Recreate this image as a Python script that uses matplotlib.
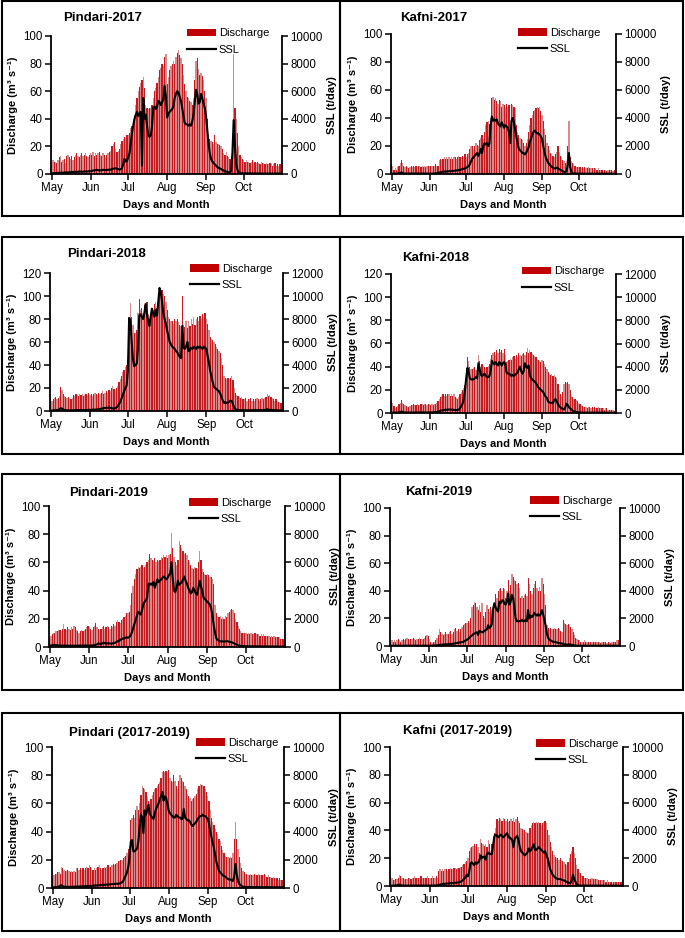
import numpy as np
import matplotlib
matplotlib.use("Agg")
import matplotlib.pyplot as plt
from matplotlib.patches import Patch, Rectangle
from matplotlib.lines import Line2D

plt.rcParams['font.family'] = ['Liberation Sans', 'DejaVu Sans']

# ---------------- data (daily, 1 May .. 31 Oct) ----------------
month_labels = ["May", "Jun", "Jul", "Aug", "Sep", "Oct"]
month_start_days = [0, 31, 61, 92, 123, 153]

pindari_2017_q = [
    9,10,9,9,8,10,12,13,9,10, 11,8,13,14,12,11,13,10,12,14, 15,13,12,14,15,13,14,15,13,12, 14,
    15,14,16,13,15,14,15,16,14,13, 15,14,12,14,15,16,17,20,22,23, 18,16,17,18,22,24,25,27,26,28,
    28,30,33,35,38,42,50,55,60,63, 66,68,70,62,50,48,47,48,48,50, 55,60,62,66,70,75,77,80,78,85, 87,
    65,70,75,78,80,82,80,85,88,90, 86,84,80,72,65,60,56,55,53,52, 50,55,68,82,84,76,72,73,71,68, 60,
    55,40,28,25,24,23,22,28,23,22, 22,21,20,18,15,14,16,13,12,11, 12,15,87,48,40,30,20,14,12,11,
    10,9,10,9,9,8,9,10,8,9, 8,9,8,7,9,8,8,7,8,7, 7,8,7,6,7,8,6,7,6,7, 6,
]
pindari_2017_ssl = [
    50,60,50,60,70,80,80,90,100,90, 100,110,120,100,120,130,150,140,150,160, 150,160,170,180,160,170,180,190,180,190, 200,
    200,220,250,260,280,300,280,270,260,280, 300,290,280,300,310,300,320,350,380,400, 420,380,350,330,350,400,700,1100,900,950,
    1200,1500,2200,3000,3500,4000,4300,4500,4200,4400, 4500,600,5500,4000,4300,3500,2800,2700,2800,3500, 4800,4900,4700,4900,5300,5200,5000,5200,5400,6400, 5600,
    4100,4400,4500,4600,4700,4900,5500,5800,6000,5900, 5600,5300,4800,4200,3700,3600,3600,3500,3600,3500, 3800,4300,5200,6100,5800,5100,5200,5800,5500,5100, 4800,
    4200,3200,2200,1500,1100,900,800,700,600,500, 450,400,350,300,250,200,180,150,120,100, 200,1500,3900,2000,800,300,100,80,60,50,
    50,50,45,45,40,40,40,40,40,35, 35,35,35,35,30,30,30,30,30,30, 30,30,30,30,30,30,30,30,30,30, 30,
]

kafni_2017_q = [
    7,6,3,4,3,5,6,8,10,8, 6,5,6,5,4,5,6,5,6,5, 6,5,6,6,5,6,5,6,5,6, 6,
    6,6,6,6,6,7,6,6,10,11, 10,11,12,11,12,11,12,11,12,11, 12,12,11,12,13,12,12,13,12,14,
    12,14,15,18,20,20,18,20,22,21, 20,24,26,28,25,30,35,37,38,36, 40,54,55,53,54,52,50,53,52,48, 50,
    49,47,50,48,49,32,50,49,48,47, 35,30,28,26,25,24,22,20,22,25, 30,35,40,42,45,46,47,48,47,48, 45,
    42,38,32,28,22,20,17,15,14,13, 12,14,16,20,16,13,12,10,9,8, 9,20,38,12,9,8,7,6,5,5,
    5,5,4,5,4,5,4,4,5,4, 4,4,3,4,4,3,4,3,3,3, 2,3,3,2,3,3,3,3,2,3, 3,
]
kafni_2017_ssl = [
    20,20,30,30,30,40,50,60,120,60, 40,30,30,30,30,30,30,30,30,30, 30,30,30,30,30,30,30,30,30,30, 30,
    30,30,30,30,40,40,50,60,100,120, 150,160,170,180,180,190,200,200,210,220, 230,240,250,260,280,300,320,350,380,400,
    450,500,550,700,900,1100,1200,1300,1400,1500, 1300,1500,1800,1500,2000,2200,2100,2200,2000,2200, 3500,4100,3800,3900,3800,3900,3600,3500,3400,3700, 3500,
    3300,3500,3400,3300,3000,2200,3800,4000,3700,3200, 2700,2200,1800,1700,1600,1500,1500,1400,1500,1700, 1900,2300,2500,2800,3000,3100,3000,2900,2900,2800, 2700,
    2500,2000,1600,1200,1000,800,700,600,500,450, 400,400,450,400,350,300,250,200,150,150, 200,600,1500,500,150,60,40,30,30,30,
    25,25,25,20,20,20,20,20,20,20, 20,20,20,20,20,20,20,20,20,20, 20,20,20,20,20,20,20,20,20,20, 20,
]

pindari_2018_q = [
    10,9,10,11,12,10,11,13,21,18, 15,13,12,11,12,11,10,11,14,13, 15,14,13,15,14,15,13,14,15,14, 16,
    14,15,13,15,16,15,14,16,15,16, 17,15,16,17,16,18,17,20,22,19, 18,20,22,25,28,30,34,36,38,40,
    45,80,94,82,75,68,68,70,85,97, 88,90,85,92,88,95,84,80,85,90, 88,93,95,90,100,108,107,105,102,100, 95,
    88,82,80,78,78,76,80,78,80,77, 75,74,100,75,73,78,72,78,74,80, 76,82,75,80,82,78,83,80,84,82, 85,
    80,76,70,64,63,62,60,58,56,54, 52,50,46,40,30,29,28,29,28,29, 30,27,20,16,14,13,12,11,12,10,
    10,11,9,10,10,11,9,10,9,10, 11,10,9,10,11,10,11,12,15,13, 14,12,11,10,9,10,9,8,8,7, 7,
]
pindari_2018_ssl = [
    50,40,50,60,60,80,100,150,250,200, 120,80,60,60,50,50,50,60,60,70, 70,80,80,80,80,70,80,80,90,90, 100,
    100,100,110,120,120,130,140,150,180,200, 220,250,260,270,280,300,280,250,220,200, 250,300,400,600,800,1100,1400,1700,2000,2200,
    3500,8100,7800,6000,4500,3900,4000,4100,5500,8300, 8400,8200,8000,8500,9300,8500,7800,7400,8200,8900, 8500,8200,8800,8300,9500,10700,10300,9500,8500,8000, 7600,
    7000,6500,6000,5800,5600,5500,5400,5200,5100,4900, 4700,4600,7400,5500,5400,5600,6000,5200,5300,5500, 5400,5600,5500,5400,5600,5500,5600,5500,5400,5600, 5500,
    5400,4800,4200,3500,3000,2500,2100,2000,1900,1800, 1700,1500,1200,900,700,750,700,750,800,900, 850,600,300,150,100,100,80,80,70,70,
    70,70,60,60,60,60,70,70,70,70, 70,70,70,80,80,80,90,100,150,120, 100,80,80,70,70,60,60,60,50,50, 50,
]

kafni_2018_q = [
    10,9,6,4,5,6,8,9,11,9, 8,7,6,5,5,6,7,7,8,7, 7,8,7,7,8,8,7,8,8,7, 8,
    8,7,8,7,8,8,9,10,12,14, 15,16,15,16,15,16,16,15,16,15, 16,14,13,12,14,16,18,20,22,24,
    30,48,45,40,38,38,39,40,37,38, 50,45,40,42,41,40,39,40,41,42, 47,50,52,53,50,54,52,55,53,54, 52,
    55,50,44,45,46,47,46,48,49,47, 50,48,52,50,49,51,52,50,53,56, 52,54,53,51,50,49,48,47,46,45, 44,
    46,45,42,40,38,35,34,33,34,32, 33,31,30,25,20,16,15,18,25,27, 26,27,25,20,15,14,12,12,11,10,
    9,8,7,6,5,5,5,4,5,5, 4,5,4,5,4,4,5,4,4,4, 4,3,4,4,3,3,3,3,3,2, 2,
]
kafni_2018_ssl = [
    30,30,30,40,40,50,60,80,120,80, 60,50,40,40,40,40,40,40,40,40, 50,50,50,50,50,50,50,50,50,50, 50,
    50,50,50,60,60,70,80,100,150,200, 230,250,260,280,280,290,300,300,290,280, 270,260,250,260,300,400,600,800,1200,2000,
    3000,3900,3500,3000,2900,2900,2900,3000,3100,3000, 4300,3800,3300,3200,3300,3400,3200,3100,3100,3200, 3600,4500,4300,4200,4400,4200,4100,4400,4300,4100, 4300,
    4400,4200,3500,3400,3400,3300,3200,3300,3200,3300, 3400,3500,3800,4000,3600,3400,3600,4300,4000,3900, 4100,3300,3000,2900,2800,2700,2600,2400,2200,2100, 2000,
    1900,1800,1600,1400,1300,1000,900,900,850,900, 1100,1200,1000,800,600,500,400,350,300,500, 800,700,500,400,300,200,150,100,80,60,
    50,40,40,30,30,30,30,30,30,30, 30,30,30,30,30,30,30,30,30,30, 30,30,20,20,20,20,20,20,20,20, 20,
]

pindari_2019_q = [
    6,8,9,10,10,11,11,12,12,11, 13,16,13,12,14,13,12,14,13,15, 14,12,11,10,11,12,11,12,13,14, 15,
    14,13,12,14,15,17,14,13,12,13, 14,15,13,14,15,14,13,15,14,16, 15,18,19,18,17,19,20,21,22,24,
    24,25,30,38,43,48,52,55,57,56, 57,58,56,57,58,60,62,66,63,62, 61,63,60,62,61,62,64,63,65,64, 65,
    63,65,66,81,70,64,60,58,62,75, 72,70,68,66,67,65,62,60,58,56, 55,57,56,55,60,68,62,55,53,52, 51,
    52,51,50,50,48,45,30,24,22,21, 22,20,21,20,22,21,24,25,26,27, 26,24,20,18,15,13,11,10,10,10,
    10,9,10,9,10,9,9,10,9,9, 9,8,9,8,9,8,8,8,8,7, 8,7,8,7,7,7,7,6,6,6, 5,
]
pindari_2019_ssl = [
    100,100,120,150,150,130,120,100,100,100, 100,100,100,90,90,90,90,90,90,90, 90,90,90,100,100,100,100,100,100,100, 100,
    100,100,110,120,130,150,200,250,230,220, 250,300,280,260,250,270,250,240,250,280, 300,350,400,450,500,550,600,600,650,700,
    650,700,800,1000,1300,1600,1900,2200,2500,2400, 2300,2600,3000,3200,3300,3500,4500,4400,4500,4400, 4600,4200,4500,4800,4600,4700,4800,4900,5000,4900, 4800,
    4900,5100,5200,6000,4800,4000,3900,4200,4700,4400, 4500,4600,4800,5000,4700,4500,4200,4000,3800,3900, 4200,4000,3800,3700,4200,4700,4300,4000,3500,3400, 3300,
    3200,3100,3000,2700,2200,1500,1000,600,500,450, 400,400,400,380,400,420,400,380,350,330, 300,250,200,150,120,100,80,70,60,60,
    50,50,50,50,50,50,50,45,45,45, 45,45,40,40,40,40,40,40,40,40, 35,35,35,35,35,35,30,30,30,30, 30,
]

kafni_2019_q = [
    3,4,3,4,3,4,5,4,3,4, 5,4,5,6,5,4,5,5,6,5, 4,5,5,6,5,5,5,6,7,8, 7,
    5,3,2,3,3,4,6,8,12,10, 9,8,9,10,9,9,10,11,9,10, 12,13,11,12,10,12,14,15,16,17,
    17,18,17,20,28,30,32,31,28,26, 30,25,31,22,20,25,30,27,25,28, 26,30,29,38,35,40,41,42,40,42, 41,
    35,40,48,40,44,52,50,48,47,45, 46,42,35,36,35,37,38,36,49,45, 40,38,42,45,47,42,40,43,40,49, 45,
    38,30,15,13,12,13,12,12,13,12, 12,13,12,11,10,19,17,16,15,16, 15,14,12,10,8,6,5,4,4,3,
    3,3,4,3,3,3,3,3,3,3, 3,3,3,3,3,2,3,3,3,3, 2,3,3,2,3,3,3,3,4,4, 4,
]
kafni_2019_ssl = [
    20,20,20,20,20,20,20,20,20,20, 20,20,20,20,20,20,20,20,20,20, 20,20,20,20,20,20,20,20,20,20, 20,
    20,20,20,30,30,40,50,60,80,90, 100,100,110,120,120,130,140,150,150,160, 180,200,220,230,250,270,280,300,350,400,
    450,500,600,700,750,850,900,950,1000,800, 1100,1050,1000,1000,1100,1150,1200,1500,1300,1400, 1600,2700,3100,2800,2600,2500,3200,3100,3300,3300, 3100,
    3000,3200,3800,3000,3200,3700,3500,2800,2000,1800, 1800,1800,1800,1900,1800,1800,1900,1800,2600,2000, 2200,2100,2200,2400,2300,2200,2300,2200,2300,2600, 2300,
    1900,1500,900,600,450,400,350,300,300,280, 250,230,210,200,180,150,120,110,100,100, 120,100,80,60,40,30,20,20,20,20,
    20,20,20,20,20,20,20,20,20,20, 20,20,20,20,20,20,20,20,20,20, 20,20,20,20,20,20,20,20,20,20, 20,
]

pindari_all_q = [
    8,9,10,10,11,11,10,15,14,13, 12,12,13,12,11,12,11,12,11,14, 14,13,14,13,14,13,14,15,14,16, 15,
    14,13,14,13,14,15,16,14,13,14, 15,14,15,16,15,15,16,17,16,17, 18,19,19,20,20,21,22,23,25,28,
    30,48,50,52,50,55,58,55,60,66, 72,71,70,68,65,62,60,63,66,68, 70,71,72,74,75,78,82,83,82,83, 82,
    84,78,76,75,80,76,72,70,76,80, 78,76,75,72,70,67,65,64,62,63, 64,65,67,70,72,74,73,73,72,70, 68,
    65,62,55,50,47,45,42,40,38,35, 33,30,27,25,23,22,22,21,22,21, 25,35,47,35,28,22,18,14,12,11,
    10,10,9,9,10,9,9,10,9,9, 10,9,9,9,9,10,9,8,9,8, 8,7,8,7,7,7,6,7,6,6, 6,
]
pindari_all_ssl = [
    50,50,60,70,80,100,150,200,120,100, 90,80,80,80,80,90,90,90,100,100, 100,110,110,120,120,120,130,130,140,150, 150,
    150,160,170,180,180,190,200,200,210,220, 220,230,240,250,250,260,270,280,290,300, 300,300,320,350,400,500,700,900,1100,1500,
    2200,3300,3400,2600,2600,2700,2800,3300,4300,5200, 5000,3900,5500,5200,5500,5900,5300,5100,5000,4900, 5300,5600,5800,6000,6300,6500,6800,6200,6500,6400, 6000,
    5500,5300,5200,5100,5000,5000,5200,5100,5000,5000, 4900,4900,5600,5000,4900,4800,4800,4700,4500,4400, 4500,4600,4700,4900,5000,5100,5100,5200,5100,5100, 5000,
    4900,4600,4000,3600,3200,2800,2300,1800,1500,1200, 1100,1000,900,850,800,700,650,600,600,550, 500,800,1700,1000,500,300,200,120,100,80,
    70,70,70,70,65,65,65,65,60,60, 60,60,60,60,55,55,55,55,55,55, 50,50,50,50,50,50,50,50,50,50, 50,
]

kafni_all_q = [
    7,6,4,4,5,5,6,8,7,6, 6,5,5,5,6,6,5,6,6,7, 6,6,6,6,7,6,6,6,6,7, 6,
    6,6,7,6,6,7,6,11,12,11, 12,11,12,12,11,12,13,12,12,13, 13,12,13,13,14,14,15,16,17,18,
    20,25,27,28,29,30,29,30,28,24, 34,31,30,29,30,28,33,30,25,30, 35,38,42,48,47,49,48,47,49,48, 47,
    48,46,47,48,47,49,46,48,50,47, 45,42,41,40,40,39,38,38,42,44, 45,46,45,46,45,46,45,44,45,46, 47,
    45,40,37,32,28,25,22,21,20,20, 19,20,19,18,17,16,15,17,20,23, 25,28,24,20,15,12,10,9,8,7,
    6,6,6,5,5,5,6,5,5,5, 5,4,4,4,4,4,4,3,4,3, 3,3,2,3,3,3,3,3,3,3, 3,
]
kafni_all_ssl = [
    20,20,30,30,40,50,70,100,60,40, 30,30,30,30,30,30,30,30,30,30, 30,30,30,30,30,30,30,30,30,30, 30,
    30,30,30,30,40,40,50,80,100,120, 140,150,160,170,180,190,200,200,210,220, 230,240,250,270,300,350,400,500,600,800,
    700,1000,1600,1700,1600,1500,1700,1600,1700,1800, 2200,2000,2100,2100,1900,2300,2400,2300,2300,2300, 3000,3600,3700,3600,3500,3600,3700,3600,3500,3600, 3700,
    3800,3500,3500,3400,3300,2800,3400,3500,3600,3300, 2800,2500,2400,2300,2200,2300,2400,2700,2500,2600, 2800,3000,2600,2600,2700,2800,2700,2600,2500,2400, 2500,
    2200,2000,1600,1200,1000,800,700,600,550,500, 500,500,450,420,400,350,300,250,220,200, 400,800,500,300,100,60,40,30,30,30,
    30,30,30,30,30,30,25,25,25,25, 25,25,25,25,25,25,20,20,20,20, 20,20,20,20,20,20,20,20,20,20, 20,
]

titles = ["Pindari-2017", "Kafni-2017", "Pindari-2018", "Kafni-2018",
          "Pindari-2019", "Kafni-2019", "Pindari (2017-2019)", "Kafni (2017-2019)"]
discharge_series = [pindari_2017_q, kafni_2017_q, pindari_2018_q, kafni_2018_q,
                    pindari_2019_q, kafni_2019_q, pindari_all_q, kafni_all_q]
ssl_series = [pindari_2017_ssl, kafni_2017_ssl, pindari_2018_ssl, kafni_2018_ssl,
              pindari_2019_ssl, kafni_2019_ssl, pindari_all_ssl, kafni_all_ssl]
q_max = [100, 100, 120, 120, 100, 100, 100, 100]

# ---------------- layout (pixels) ----------------
W, H = 685, 938
fig = plt.figure(figsize=(W / 100, H / 100), dpi=100)

def fx(x):
    return x / W

def fy(y):
    return 1 - y / H

# axes: left, top, right, bottom
axes_px = [(51, 36, 282, 174), (391, 34, 616, 174),
           (50, 273, 283, 411), (391, 274, 616, 413),
           (49, 506, 285, 647), (390, 508, 620, 646),
           (52, 747, 284, 888), (390, 747, 623, 886)]
title_px = [(103, 18), (434, 18), (106, 254), (436, 258),
            (109, 493), (439, 492), (129, 733), (458, 731)]
legend_px = [(187, 41.5), (518, 41), (190, 277), (522, 279.5),
             (189, 511), (530, 509), (196, 751), (536, 752)]

# panel boxes
rows = [(1.5, 216.5), (237, 454), (474, 690), (713, 931)]
cols = [(1.5, 340), (340, 683)]
for (t, b) in rows:
    for (l, r) in cols:
        fig.add_artist(Rectangle((fx(l), fy(b)), fx(r) - fx(l), fy(t) - fy(b),
                                 transform=fig.transFigure, fill=False,
                                 edgecolor='black', linewidth=1.5))

bar_color = '#C00000'
bar_shades = ['#C41A20', '#D98A8A']   # dark red / light red stripes
tick_fs = 8.3

for i in range(8):
    l, t, r, b = axes_px[i]
    ax = fig.add_axes([fx(l), fy(b), fx(r) - fx(l), fy(t) - fy(b)])
    q = discharge_series[i]
    s = ssl_series[i]
    days = np.arange(len(q))
    colors = [bar_shades[d % 2] for d in days]
    ax.bar(days, q, width=1.0, color=colors, linewidth=0, zorder=1)
    ax2 = ax.twinx()
    ax2.plot(np.arange(len(s)), s, color='black', linewidth=1.5, zorder=3)

    qm = q_max[i]
    ax.set_xlim(-0.5, 183.5)
    ax.set_ylim(0, qm)
    ax2.set_ylim(0, qm * 100)
    ax.set_yticks(np.arange(0, qm + 1, 20))
    ax2.set_yticks(np.arange(0, qm * 100 + 1, 2000))
    ax.set_xticks(month_start_days)
    ax.set_xticklabels(month_labels)

    for a in (ax, ax2):
        a.spines['top'].set_visible(False)
        a.patch.set_visible(False)
    ax.spines['right'].set_visible(False)
    ax2.spines['left'].set_visible(False)
    ax2.spines['bottom'].set_visible(False)
    for sp in ('left', 'bottom'):
        ax.spines[sp].set_linewidth(1.3)
    ax2.spines['right'].set_linewidth(1.3)
    ax.tick_params(axis='both', direction='out', length=4, width=1.1,
                   labelsize=tick_fs, pad=2)
    ax2.tick_params(axis='y', direction='out', length=4, width=1.1,
                    labelsize=tick_fs, pad=2)

    # texts
    tx, ty = title_px[i]
    fig.text(fx(tx), fy(ty), titles[i], ha='center', va='center',
             fontsize=9.5, fontweight='bold')
    fig.text(fx((l + r) / 2), fy(b + 31), "Days and Month", ha='center',
             va='center', fontsize=8, fontweight='bold')
    fig.text(fx(l - 38), fy((t + b) / 2), "Discharge (m³ s⁻¹)", ha='center',
             va='center', rotation=90, fontsize=8, fontweight='bold')
    fig.text(fx(r + 50), fy((t + b) / 2), "SSL (t/day)", ha='center',
             va='center', rotation=90, fontsize=8, fontweight='bold')

    lx, ly = legend_px[i]
    handles = [Patch(facecolor=bar_color, edgecolor='none'),
               Line2D([0], [0], color='black', linewidth=1.6)]
    ax2.legend(handles, ["Discharge", "SSL"], loc='center left',
               bbox_to_anchor=(fx(lx), fy(ly)), bbox_transform=fig.transFigure,
               frameon=False, fontsize=8, borderpad=0, borderaxespad=0,
               handlelength=2.6, handletextpad=0.25, labelspacing=0.55)

fig.savefig("out.png", dpi=100, facecolor='white')
